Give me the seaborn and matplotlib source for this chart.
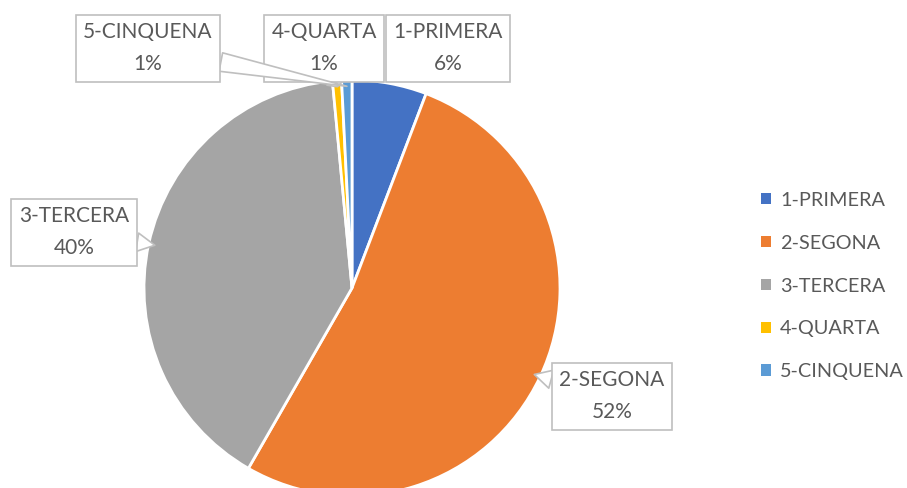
import matplotlib
matplotlib.use("Agg")
import matplotlib.pyplot as plt
import seaborn as sns
import numpy as np

categories = ["1-PRIMERA", "2-SEGONA", "3-TERCERA", "4-QUARTA", "5-CINQUENA"]
values = [5.8, 52.5, 40.2, 0.7, 0.8]
colors = ["#4472C4", "#ED7D31", "#A5A5A5", "#FFC000", "#5B9BD5"]

sns.set_theme(style="white")
plt.rcParams['font.family'] = ['Lato', 'DejaVu Sans']

W, H = 907, 488
fig = plt.figure(figsize=(W / 100, H / 100), dpi=100)
cx, cy, r = 352, 288, 208
ax = fig.add_axes([(cx - r) / W, (H - cy - r) / H, 2 * r / W, 2 * r / H])
ax.set_aspect('equal')
ax.axis('off')

wedges, _ = ax.pie(values, colors=colors, startangle=90, counterclock=False,
                   radius=1, center=(0, 0), frame=False,
                   wedgeprops=dict(edgecolor='white', linewidth=2))
ax.set_xlim(-1, 1)
ax.set_ylim(-1, 1)

# label box centers in figure pixels (from top-left)
label_pos = {
    "1-PRIMERA": (448, 48),
    "2-SEGONA": (612, 396),
    "3-TERCERA": (74, 232),
    "4-QUARTA": (324, 48),
    "5-CINQUENA": (148, 48),
}
FS = 15
total = sum(values)
for w, cat, v in zip(wedges, categories, values):
    ang = np.deg2rad((w.theta1 + w.theta2) / 2)
    x, y = np.cos(ang), np.sin(ang)
    px, py = label_pos[cat]
    txt = f"{cat}\n{v / total * 100:.0f}%"
    kw = dict(xytext=(px, H - py), textcoords='figure pixels',
              ha='center', va='center', fontsize=FS, color='#595959',
              linespacing=1.75,
              bbox=dict(boxstyle='square,pad=0.36', fc='white', ec='#BFBFBF', lw=1.2))
    if cat == "1-PRIMERA":
        ax.annotate(txt, xy=(x, y), **kw)
    else:
        ax.annotate(txt, xy=(x * 0.97, y * 0.97),
                    arrowprops=dict(arrowstyle='wedge,tail_width=0.9,shrink_factor=0.5',
                                    fc='white', ec='#BFBFBF', lw=1.2, shrinkA=0, shrinkB=0),
                    **kw)

leg = fig.legend(wedges, categories, loc='center left',
                 bbox_to_anchor=(761 / W, 1 - 286 / H), frameon=False, borderpad=0,
                 borderaxespad=0,
                 fontsize=14.3, labelcolor='#595959', handlelength=0.5, handleheight=0.5,
                 handletextpad=0.45, labelspacing=1.3)
for h in leg.legend_handles:
    h.set_edgecolor('none')

fig.savefig("out.png", dpi=100)
